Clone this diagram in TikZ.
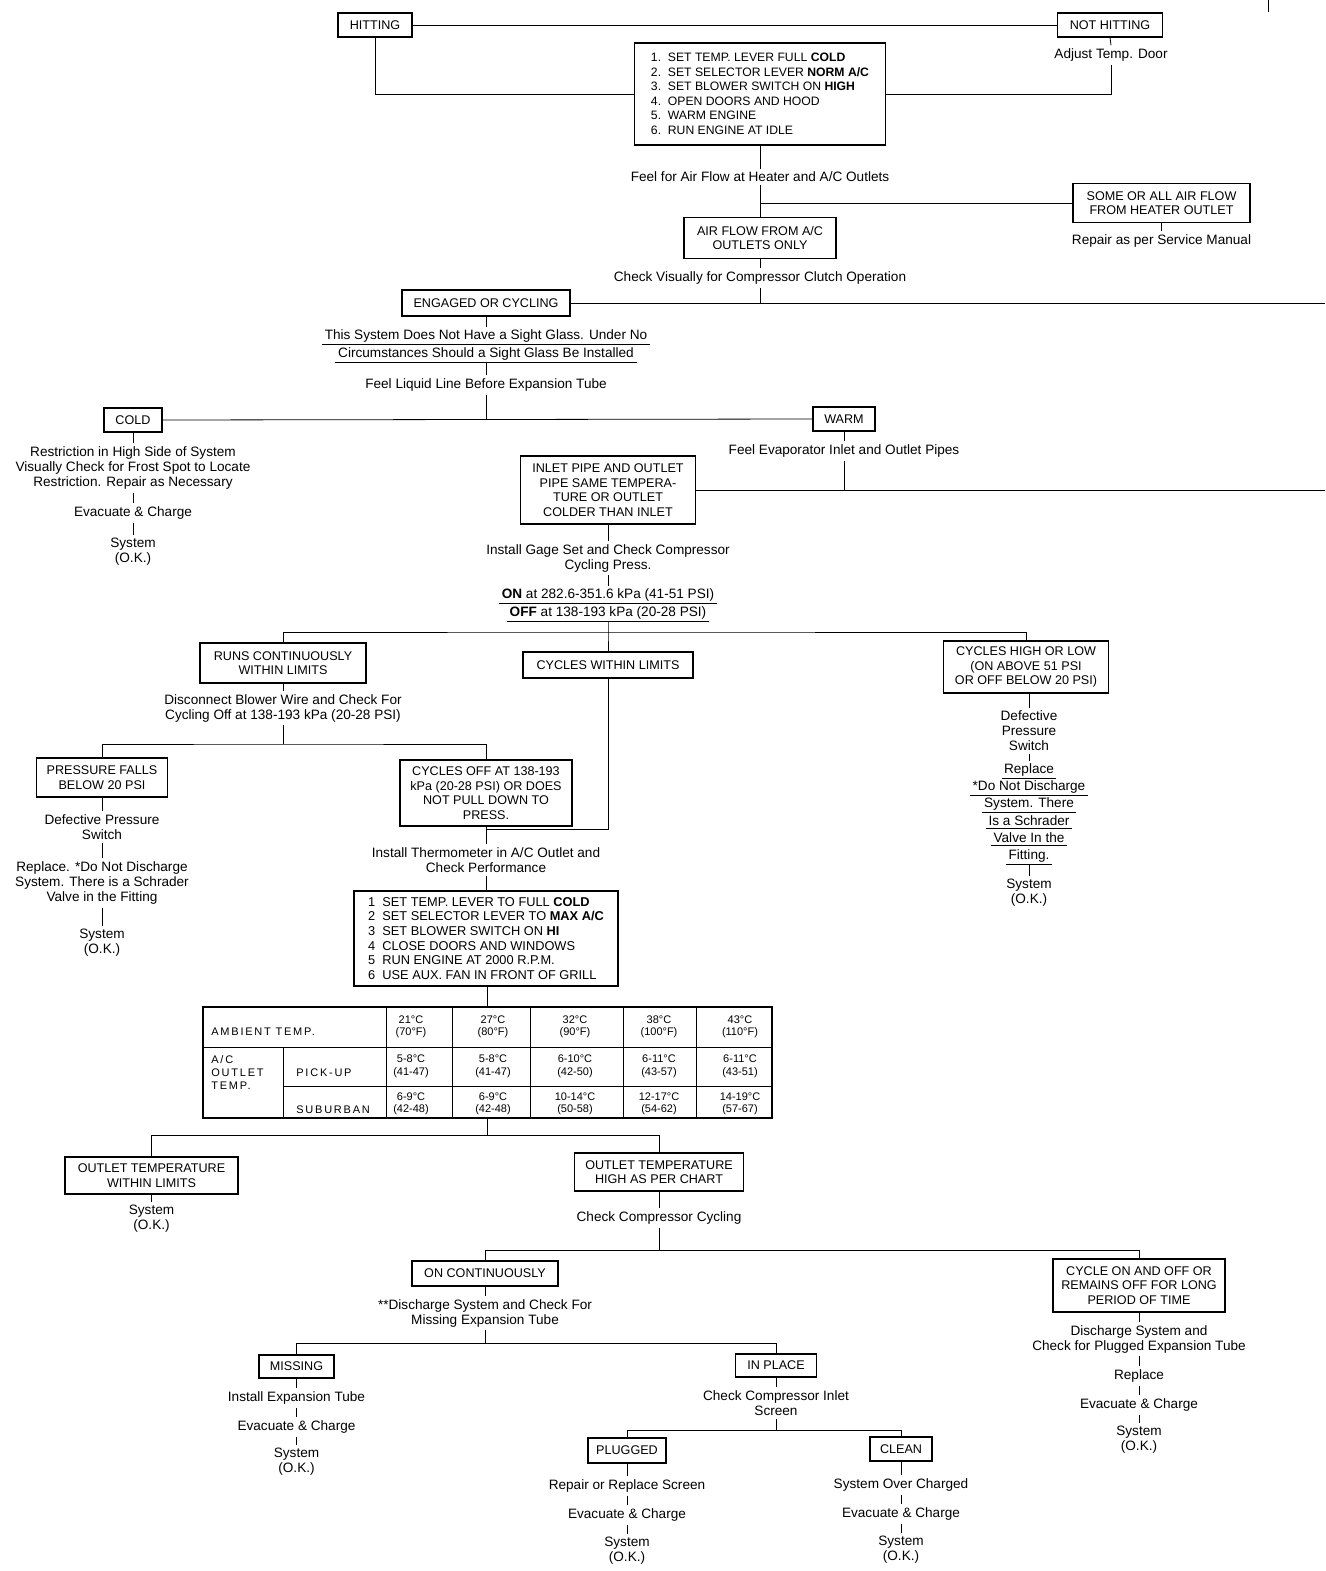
\documentclass[tikz,border=0pt]{standalone}
\usepackage{fontspec}
\setmainfont{Liberation Sans}
\newfontfamily\tblwide{Liberation Sans}[LetterSpace=16]
\newcommand\bxfont{\fontsize{12.6}{14.5}\selectfont}
\newcommand\ntfont{\fontsize{13.6}{15}\selectfont}
\newcommand\pkfont{\fontsize{12.2}{14.5}\selectfont}
\newcommand\ckfont{\fontsize{12.8}{14.7}\selectfont}
\newcommand\tbfont{\fontsize{11}{12.5}\selectfont}

\begin{document}
\begin{tikzpicture}[x=1pt,y=-1pt,line width=0.8pt,
    bx/.style 2 args={draw,line width=1.2pt,align=center,font=\bxfont,
      minimum width=#1pt,minimum height=#2pt,inner sep=2pt},
    ckbx/.style 2 args={draw,line width=1.2pt,align=left,
      minimum width=#1pt,minimum height=#2pt,inner xsep=6pt},
    nt/.style={align=center,font=\ntfont,inner sep=3pt},
    ul/.style={nt,inner xsep=2pt,inner ysep=2pt,
      append after command={(\tikzlastnode.south west) edge (\tikzlastnode.south east)}},
    tb/.style={align=center,font=\tbfont,inner sep=1pt}]
  \useasboundingbox (0,0) rectangle (1325,1571);
  % top: temperature door
  \node[bx={74}{24}] (hit) at (375,25) {HITTING};
  \node[bx={105}{24}] (nothit) at (1110,25) {NOT HITTING};
  \node[nt] (adjust) at (1111,55) {Adjust Temp. Door};
  \node[ckbx={251}{102},font=\pkfont] (prep) at (760,94)
    {1.\ \ SET TEMP. LEVER FULL \textbf{COLD}\\
     2.\ \ SET SELECTOR LEVER \textbf{NORM A/C}\\
     3.\ \ SET BLOWER SWITCH ON \textbf{HIGH}\\
     4.\ \ OPEN DOORS AND HOOD\\
     5.\ \ WARM ENGINE\\
     6.\ \ RUN ENGINE AT IDLE};
  \coordinate (stubT) at (1268,0);
  \coordinate (stubB) at (1268,12);
  \node[nt] (flow) at (760,177) {Feel for Air Flow at Heater and A/C Outlets};
  \node[bx={152}{41}] (aconly) at (760,238) {AIR FLOW FROM A/C\\OUTLETS ONLY};
  \node[bx={177}{39}] (heater) at (1161.5,203) {SOME OR ALL AIR FLOW\\FROM HEATER OUTLET};
  \node[nt] (svcman) at (1161.5,241) {Repair as per Service Manual};
  \node[nt] (clutch) at (760,278) {Check Visually for Compressor Clutch Operation};
  \node[bx={168}{26}] (engaged) at (486,303) {ENGAGED OR CYCLING};
  \coordinate (edgeA) at (1325,303);
  \node[ul,minimum width=302pt] (glassa) at (486,336) {This System Does Not Have a Sight Glass. Under No};
  \node[ul,minimum width=302pt] (glassb) at (486,354) {Circumstances Should a Sight Glass Be Installed};
  \node[nt] (liquid) at (486,385) {Feel Liquid Line Before Expansion Tube};
  % cold / warm
  \node[bx={58}{24}] (cold) at (133,420) {COLD};
  \node[bx={62}{24}] (warm) at (844,419) {WARM};
  \node[nt] (restrict) at (133,468) {Restriction in High Side of System\\
    Visually Check for Frost Spot to Locate\\Restriction. Repair as Necessary};
  \node[nt] (evacA) at (133,513) {Evacuate \& Charge};
  \node[nt] (okA) at (133,552) {System\\(O.K.)};
  \node[nt] (evapor) at (844,451) {Feel Evaporator Inlet and Outlet Pipes};
  \node[bx={175}{68}] (inlet) at (608,490) {INLET PIPE AND OUTLET\\PIPE SAME TEMPERA-\\TURE OR OUTLET\\COLDER THAN INLET};
  \coordinate (edgeB) at (1325,490);
  \node[nt] (gage) at (608,558) {Install Gage Set and Check Compressor\\Cycling Press.};
  \node[ul] (onat) at (608,595) {\textbf{ON} at 282.6-351.6 kPa (41-51 PSI)};
  \node[ul] (offat) at (608,613) {\textbf{OFF} at 138-193 kPa (20-28 PSI)};
  \coordinate (busA) at (608,632);
  % cycling pressure
  \node[bx={166}{40}] (runs) at (283,663) {RUNS CONTINUOUSLY\\WITHIN LIMITS};
  \node[bx={170}{26}] (cwl) at (608,665) {CYCLES WITHIN LIMITS};
  \node[bx={165}{52}] (chl) at (1026,667) {CYCLES HIGH OR LOW\\(ON ABOVE 51 PSI\\OR OFF BELOW 20 PSI)};
  \node[nt] (defB) at (1029,731) {Defective\\Pressure\\Switch};
  \node[ul] (wa) at (1029,770) {Replace};
  \node[ul] (wb) at (1029,787) {*Do Not Discharge};
  \node[ul] (wc) at (1029,804) {System. There};
  \node[ul] (wd) at (1029,821) {Is a Schrader};
  \node[ul] (we) at (1029,838) {Valve In the};
  \node[ul] (wf) at (1029,856) {Fitting.};
  \node[nt] (okR) at (1029,893) {System\\(O.K.)};
  \node[nt] (discon) at (283,708) {Disconnect Blower Wire and Check For\\Cycling Off at 138-193 kPa (20-28 PSI)};
  \coordinate (busB) at (283,744);
  \node[bx={131}{39}] (pfall) at (102,777.5) {PRESSURE FALLS\\BELOW 20 PSI};
  \node[bx={172}{66}] (cyoff) at (486,793) {CYCLES OFF AT 138-193\\kPa (20-28 PSI) OR DOES\\NOT PULL DOWN TO\\PRESS.};
  \node[nt] (defA) at (102,827) {Defective Pressure\\Switch};
  \node[nt] (replA) at (102,883) {Replace. *Do Not Discharge\\System. There is a Schrader\\Valve in the Fitting};
  \node[nt] (okB) at (102,943) {System\\(O.K.)};
  \coordinate (joinA) at (486,829);
  \node[nt] (thermo) at (486,860) {Install Thermometer in A/C Outlet and\\Check Performance};
  \node[ckbx={264}{95},font=\ckfont] (perf) at (486,938.5)
    {1\ \ SET TEMP. LEVER TO FULL \textbf{COLD}\\
     2\ \ SET SELECTOR LEVER TO \textbf{MAX A/C}\\
     3\ \ SET BLOWER SWITCH ON \textbf{HI}\\
     4\ \ CLOSE DOORS AND WINDOWS\\
     5\ \ RUN ENGINE AT 2000 R.P.M.\\
     6\ \ USE AUX. FAN IN FRONT OF GRILL};
  % performance chart
  \node[draw,line width=1.3pt,minimum width=569pt,minimum height=111pt,inner sep=0pt] (tbl) at (487.5,1062.5) {};
  \draw (203,1047) -- (772,1047);
  \draw (283,1086) -- (772,1086);
  \draw (283,1047) -- (283,1118);
  \foreach \x in {386,452,530,623,696}
    {\draw (\x,1007) -- (\x,1118);}
  \node[tb,anchor=west,font=\tblwide\tbfont] (amb) at (210,1032) {AMBIENT TEMP.};
  \node[tb,anchor=west,align=left,font=\tblwide\fontsize{11}{13}\selectfont] (aco) at (210,1073) {A/C\\OUTLET\\TEMP.};
  \node[tb,anchor=west,font=\tblwide\tbfont] (pick) at (295,1073) {PICK-UP};
  \node[tb,anchor=west,font=\tblwide\tbfont] (subu) at (295,1110) {SUBURBAN};
  \foreach \cx/\hc/\hf/\pc/\pf/\sc/\sf in {411/21/70/5-8/41-47/6-9/42-48,
      493/27/80/5-8/41-47/6-9/42-48,575/32/90/6-10/42-50/10-14/50-58,
      659/38/100/6-11/43-57/12-17/54-62,740/43/110/6-11/43-51/14-19/57-67}
    {\node[tb] (hd\cx) at (\cx,1027) {\hc°C\\(\hf°F)};
     \node[tb] (pk\cx) at (\cx,1066.5) {\pc°C\\(\pf)};
     \node[tb] (sb\cx) at (\cx,1104) {\sc°C\\(\sf)};}
  \coordinate (busC) at (487.5,1135);
  % outlet temperature
  \node[bx={173}{37}] (within) at (151.5,1175.5) {OUTLET TEMPERATURE\\WITHIN LIMITS};
  \node[nt] (okC) at (151.5,1219) {System\\(O.K.)};
  \node[bx={169}{38}] (high) at (659,1172) {OUTLET TEMPERATURE\\HIGH AS PER CHART};
  \node[nt] (cyccheck) at (659,1218) {Check Compressor Cycling};
  \coordinate (busD) at (659,1250);
  \node[bx={146}{25}] (oncont) at (485,1273.5) {ON CONTINUOUSLY};
  \node[bx={172}{53}] (offlong) at (1139,1285.5) {CYCLE ON AND OFF OR\\REMAINS OFF FOR LONG\\PERIOD OF TIME};
  \node[nt] (missck) at (485,1313) {**Discharge System and Check For\\Missing Expansion Tube};
  \coordinate (busE) at (485,1343);
  \node[bx={75}{23}] (missing) at (296.5,1366.5) {MISSING};
  \node[bx={81}{23}] (inplace) at (776,1365.5) {IN PLACE};
  \node[nt] (insttube) at (296.5,1398) {Install Expansion Tube};
  \node[nt] (evacB) at (296.5,1427) {Evacuate \& Charge};
  \node[nt] (okD) at (296.5,1462) {System\\(O.K.)};
  \node[nt] (inletscr) at (776,1403) {Check Compressor Inlet\\Screen};
  \coordinate (busF) at (776,1430);
  \node[bx={78}{25}] (plugged) at (627,1450.5) {PLUGGED};
  \node[bx={62}{24}] (clean) at (901,1449) {CLEAN};
  \node[nt] (replscr) at (627,1486) {Repair or Replace Screen};
  \node[nt] (evacC) at (627,1515) {Evacuate \& Charge};
  \node[nt] (okE) at (627,1551) {System\\(O.K.)};
  \node[nt] (overch) at (901,1485) {System Over Charged};
  \node[nt] (evacD) at (901,1514) {Evacuate \& Charge};
  \node[nt] (okF) at (901,1550) {System\\(O.K.)};
  \node[nt] (plugck) at (1139,1339) {Discharge System and\\Check for Plugged Expansion Tube};
  \node[nt] (replB) at (1139,1376) {Replace};
  \node[nt] (evacE) at (1139,1405) {Evacuate \& Charge};
  \node[nt] (okG) at (1139,1440) {System\\(O.K.)};
  % connectors
  \draw (stubT) -- (stubB);
  \draw (hit.east) -- (nothit.west);
  \draw (hit.south) |- (prep.west);
  \draw (nothit.south) -- (adjust.north);
  \draw (prep.east) -| (adjust.south);
  \draw (prep.south) -- (flow.north);
  \draw (flow.south) -- (aconly.north);
  \draw (flow.south |- heater.west) -- (heater.west);
  \draw (heater.south) -- (svcman.north);
  \draw (aconly.south) -- (clutch.north);
  \draw (clutch.south) -- (clutch.south |- engaged.east);
  \draw (engaged.east) -- (edgeA);
  \draw (engaged.south) -- (glassa.north);
  \draw (glassb.south) -- (liquid.north);
  \draw (liquid.south) -- (liquid.south |- cold.east);
  \draw (cold.east) -- (warm.west);
  \draw (cold.south) -- (restrict.north);
  \draw (restrict.south) -- (evacA.north);
  \draw (evacA.south) -- (okA.north);
  \draw (warm.south) -- (evapor.north);
  \draw (evapor.south) -- (evapor.south |- inlet.east);
  \draw (inlet.east) -- (edgeB);
  \draw (inlet.south) -- (gage.north);
  \draw (gage.south) -- (onat.north);
  \draw (offat.south) -- (busA) -- (cwl.north);
  \draw (runs.north) |- (busA) -| (chl.north);
  \draw (defB.north |- chl.south) -- (defB.north);
  \draw (defB.south) -- (wa.north);
  \draw (wf.south) -- (okR.north);
  \draw (runs.south) -- (discon.north);
  \draw (discon.south) -- (busB);
  \draw (pfall.north) |- (busB) -| (cyoff.north);
  \draw (pfall.south) -- (defA.north);
  \draw (defA.south) -- (replA.north);
  \draw (replA.south) -- (okB.north);
  \draw (cwl.south) |- (joinA);
  \draw (cyoff.south) -- (thermo.north);
  \draw (thermo.south) -- (perf.north);
  \draw (perf.south) -- (tbl.south |- perf.south) -- (tbl.north);
  \draw (tbl.south) -- (busC);
  \draw (within.north) |- (busC) -| (high.north);
  \draw (within.south) -- (okC.north);
  \draw (high.south) -- (cyccheck.north);
  \draw (cyccheck.south) -- (busD);
  \draw (oncont.north) |- (busD) -| (offlong.north);
  \draw (oncont.south) -- (missck.north);
  \draw (missck.south) -- (busE);
  \draw (missing.north) |- (busE) -| (inplace.north);
  \draw (missing.south) -- (insttube.north);
  \draw (insttube.south) -- (evacB.north);
  \draw (evacB.south) -- (okD.north);
  \draw (inplace.south) -- (inletscr.north);
  \draw (inletscr.south) -- (busF);
  \draw (plugged.north) |- (busF) -| (clean.north);
  \draw (plugged.south) -- (replscr.north);
  \draw (replscr.south) -- (evacC.north);
  \draw (evacC.south) -- (okE.north);
  \draw (clean.south) -- (overch.north);
  \draw (overch.south) -- (evacD.north);
  \draw (evacD.south) -- (okF.north);
  \draw (offlong.south) -- (plugck.north);
  \draw (plugck.south) -- (replB.north);
  \draw (replB.south) -- (evacE.north);
  \draw (evacE.south) -- (okG.north);
\end{tikzpicture}
\end{document}
